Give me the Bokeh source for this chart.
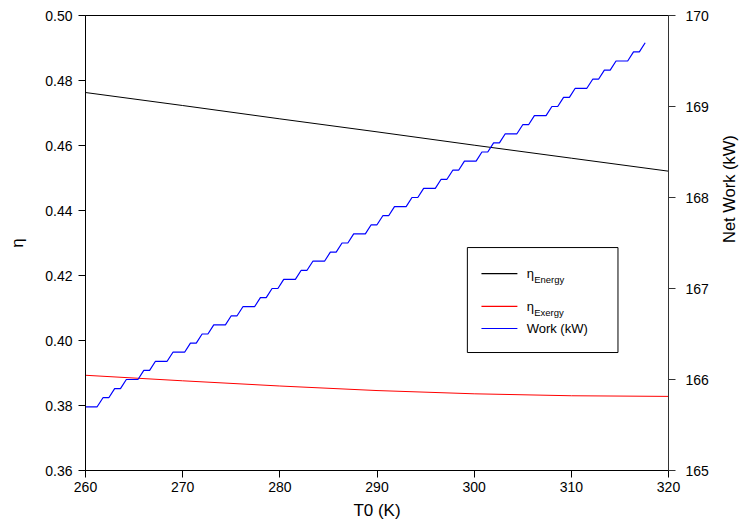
import math
from bokeh.plotting import figure
from bokeh.models import Range1d, LinearAxis, FixedTicker, PrintfTickFormatter, Label, BoxAnnotation
from bokeh.embed import file_html
from bokeh.resources import INLINE

# ---- data ----
t0_eff = [260, 270, 280, 290, 300, 310, 320]
eta_energy = [0.4763, 0.4723, 0.4682, 0.4642, 0.4601, 0.4561, 0.4521]
eta_exergy = [0.3893, 0.3876, 0.3860, 0.3846, 0.3836, 0.3830, 0.3828]

t0_work = [260.0, 260.6, 261.2, 261.8, 262.4, 263.0, 263.6, 264.2, 264.8, 265.4,
           266.0, 266.6, 267.2, 267.8, 268.4, 269.0, 269.6, 270.2, 270.8, 271.4,
           272.0, 272.6, 273.2, 273.8, 274.4, 275.0, 275.6, 276.2, 276.8, 277.4,
           278.0, 278.6, 279.2, 279.8, 280.4, 281.0, 281.6, 282.2, 282.8, 283.4,
           284.0, 284.6, 285.2, 285.8, 286.4, 287.0, 287.6, 288.2, 288.8, 289.4,
           290.0, 290.6, 291.2, 291.8, 292.4, 293.0, 293.6, 294.2, 294.8, 295.4,
           296.0, 296.6, 297.2, 297.8, 298.4, 299.0, 299.6, 300.2, 300.8, 301.4,
           302.0, 302.6, 303.2, 303.8, 304.4, 305.0, 305.6, 306.2, 306.8, 307.4,
           308.0, 308.6, 309.2, 309.8, 310.4, 311.0, 311.6, 312.2, 312.8, 313.4,
           314.0, 314.6, 315.2, 315.8, 316.4, 317.0, 317.6]
work_kw = [165.7, 165.7, 165.7, 165.8, 165.8, 165.9, 165.9, 166.0, 166.0, 166.0,
           166.1, 166.1, 166.2, 166.2, 166.2, 166.3, 166.3, 166.3, 166.4, 166.4,
           166.5, 166.5, 166.6, 166.6, 166.6, 166.7, 166.7, 166.8, 166.8, 166.8,
           166.9, 166.9, 167.0, 167.0, 167.1, 167.1, 167.1, 167.2, 167.2, 167.3,
           167.3, 167.3, 167.4, 167.4, 167.5, 167.5, 167.6, 167.6, 167.6, 167.7,
           167.7, 167.8, 167.8, 167.9, 167.9, 167.9, 168.0, 168.0, 168.1, 168.1,
           168.1, 168.2, 168.2, 168.3, 168.3, 168.4, 168.4, 168.4, 168.5, 168.5,
           168.6, 168.6, 168.7, 168.7, 168.7, 168.8, 168.8, 168.9, 168.9, 168.9,
           169.0, 169.0, 169.1, 169.1, 169.2, 169.2, 169.2, 169.3, 169.3, 169.4,
           169.4, 169.5, 169.5, 169.5, 169.6, 169.6, 169.7]

x_ticks = [260, 270, 280, 290, 300, 310, 320]
eta_ticks = [0.36, 0.38, 0.40, 0.42, 0.44, 0.46, 0.48, 0.50]
work_ticks = [165, 166, 167, 168, 169, 170]

legend_labels = ["η", "η", "Work (kW)"]
legend_subs = ["Energy", "Exergy", ""]
legend_colors = ["#000000", "#ff0000", "#0000ff"]

FONT = "Liberation Sans"

p = figure(width=749, height=527, x_range=Range1d(260, 320), y_range=Range1d(0.36, 0.50),
           output_backend="svg", toolbar_location=None,
           min_border_left=85, min_border_right=78, min_border_top=15, min_border_bottom=57)
p.grid.visible = False
p.outline_line_color = "black"
p.outline_line_width = 1
p.background_fill_color = "white"
p.border_fill_color = "white"

p.extra_y_ranges = {"work": Range1d(165, 170)}
raxis = LinearAxis(y_range_name="work", axis_label="Net Work (kW)")
p.add_layout(raxis, "right")

xa = p.xaxis[0]
ya = p.yaxis[0]
xa.axis_label = "T0 (K)"
ya.axis_label = "η"
xa.ticker = FixedTicker(ticks=x_ticks)
ya.ticker = FixedTicker(ticks=eta_ticks)
raxis.ticker = FixedTicker(ticks=work_ticks)
ya.formatter = PrintfTickFormatter(format="%.2f")

for ax in (xa, ya, raxis):
    ax.major_tick_in = 0
    ax.major_tick_out = 7
    ax.minor_tick_in = 0
    ax.minor_tick_out = 0
    ax.axis_line_color = "black"
    ax.major_tick_line_color = "black"
    ax.major_label_text_font = FONT
    ax.major_label_text_font_size = "14px"
    ax.major_label_text_color = "black"
    ax.axis_label_text_font = FONT
    ax.axis_label_text_font_style = "normal"
    ax.axis_label_text_font_size = "17px"
    ax.axis_label_text_color = "black"

raxis.axis_line_color = "#333333"
raxis.major_tick_line_color = "#333333"
xa.major_label_standoff = 4
xa.axis_label_standoff = 6
ya.major_label_standoff = 6
ya.axis_label_standoff = 15
raxis.major_label_standoff = 10
raxis.axis_label_standoff = 17
raxis.axis_label_text_font_size = "16.5px"
try:
    raxis.axis_label_orientation = math.pi / 2
except Exception:
    pass

p.line(t0_eff, eta_energy, line_color=legend_colors[0], line_width=1)
p.line(t0_eff, eta_exergy, line_color=legend_colors[1], line_width=1)
p.line(t0_work, work_kw, line_color=legend_colors[2], line_width=1.2, y_range_name="work")

# ---- manual legend (positions in axis units) ----
box = BoxAnnotation(left=299.3, right=314.8, bottom=0.3963, top=0.4286,
                    fill_alpha=0, line_color="black", line_width=1, line_alpha=1)
p.add_layout(box)
row_y = [0.4206, 0.4105, 0.4037]
p.segment(x0=[300.75] * 3, x1=[304.45] * 3, y0=row_y, y1=row_y,
          line_color=legend_colors, line_width=1.2)
for lab, sub, yy in zip(legend_labels, legend_subs, row_y):
    p.add_layout(Label(x=305.4, y=yy, text=lab, text_baseline="middle",
                       text_font=FONT, text_font_size="13px", text_color="black"))
    if sub:
        p.add_layout(Label(x=305.4, y=yy, x_offset=7.5, y_offset=-6, text=sub,
                           text_baseline="middle", text_font=FONT,
                           text_font_size="9.5px", text_color="black"))

open("out.html", "w").write(file_html(p, INLINE))
